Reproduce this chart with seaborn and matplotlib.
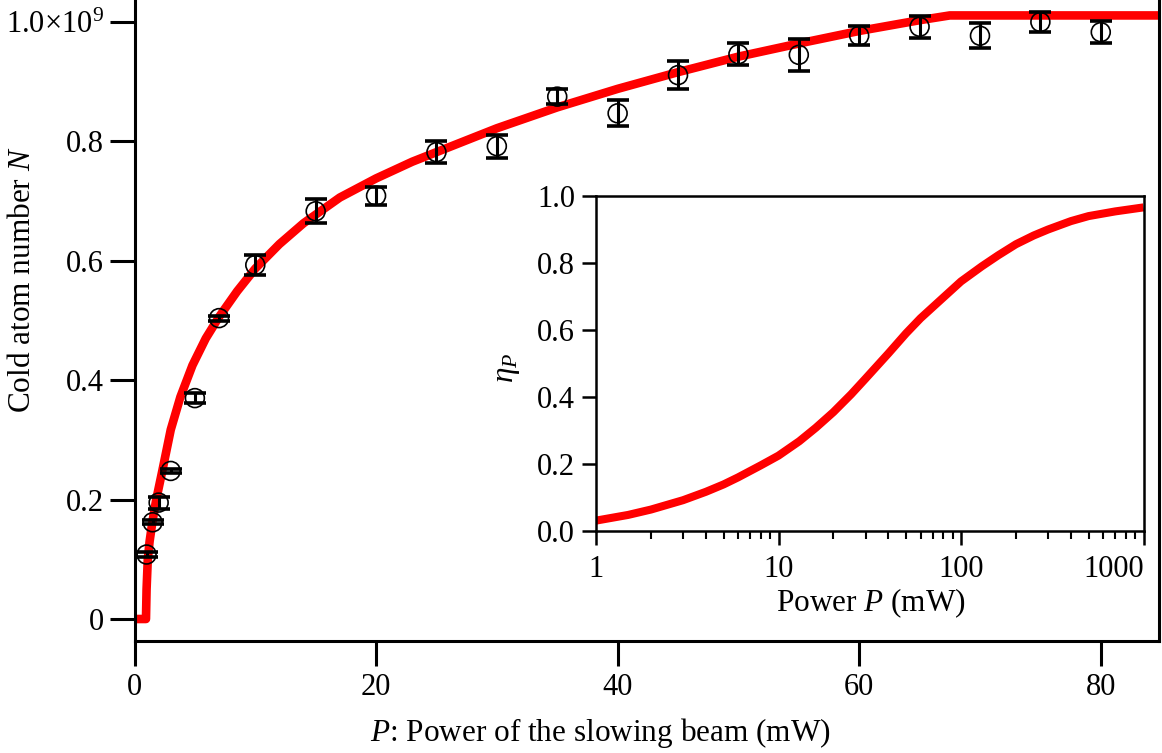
import numpy as np
import pandas as pd
import matplotlib
matplotlib.use("Agg")
import matplotlib.pyplot as plt
from matplotlib.ticker import LogLocator, NullFormatter, FixedLocator
import seaborn as sns

# Measured cold atom number vs. slowing-beam power (N in units of 1e9 atoms)
power_mw = [1, 1.5, 2, 3, 5, 7, 10, 15, 20, 25, 30, 35, 40, 45, 50, 55, 60, 65, 70, 75, 80]
atoms_1e9 = [0.108, 0.162, 0.195, 0.248, 0.370, 0.504, 0.593, 0.683, 0.709, 0.782, 0.792,
             0.875, 0.847, 0.911, 0.946, 0.945, 0.977, 0.992, 0.977, 1.000, 0.983]
atoms_err_1e9 = [0.004, 0.003, 0.010, 0.004, 0.009, 0.004, 0.017, 0.020, 0.015, 0.018, 0.019,
                 0.013, 0.022, 0.023, 0.018, 0.027, 0.016, 0.018, 0.021, 0.017, 0.018]

# Model curve for the atom number
fit_power_mw = [0, 0.95, 1.0, 1.1, 1.25, 1.5, 1.8, 2.3, 3.0, 3.8, 4.8, 5.9, 7.0, 8.5, 10,
                12, 14, 17, 20, 23, 26, 30, 35, 40, 45, 50, 55, 60, 65, 67.5, 85]
fit_atoms_1e9 = [0, 0, 0.05, 0.100, 0.130, 0.165, 0.200, 0.248, 0.317, 0.372, 0.425, 0.470,
                 0.506, 0.549, 0.587, 0.628, 0.663, 0.706, 0.738, 0.766, 0.790, 0.822, 0.857,
                 0.888, 0.916, 0.942, 0.964, 0.985, 1.003, 1.011, 1.011]

# Slowing efficiency eta_P vs. power (inset)
eta_power_mw = [1, 1.5, 2, 3, 4, 5, 6, 8, 10, 13, 16, 20, 25, 30, 40, 50, 60, 80, 100,
                130, 160, 200, 250, 300, 400, 500, 700, 1000]
eta_values = [0.031, 0.048, 0.064, 0.092, 0.117, 0.139, 0.160, 0.196, 0.225, 0.268, 0.308,
              0.355, 0.408, 0.455, 0.530, 0.590, 0.635, 0.697, 0.745, 0.790, 0.823, 0.856,
              0.882, 0.900, 0.925, 0.940, 0.954, 0.966]

main_yticks = [0, 0.2, 0.4, 0.6, 0.8, 1.0]
main_yticklabels = ["0", "0.2", "0.4", "0.6", "0.8", r"1.0×10$^{9}$"]
main_xticks = [0, 20, 40, 60, 80]
inset_yticks = [0.0, 0.2, 0.4, 0.6, 0.8, 1.0]
inset_xticks = [1, 10, 100, 1000]

sns.set_style("ticks")
plt.rcParams["font.family"] = ["Liberation Serif", "DejaVu Serif"]
plt.rcParams["mathtext.fontset"] = "custom"
plt.rcParams["mathtext.rm"] = "Liberation Serif"
plt.rcParams["mathtext.it"] = "Liberation Serif:italic"
plt.rcParams["mathtext.bf"] = "Liberation Serif:bold"
for key in ["text.color", "axes.labelcolor", "xtick.color", "ytick.color",
            "xtick.labelcolor", "ytick.labelcolor", "axes.edgecolor"]:
    plt.rcParams[key] = "black"

W, H = 1162, 753
fig = plt.figure(figsize=(W / 100, H / 100), dpi=100)

FS = 22
FS_LABEL = 22.5
# ---------------- main axes ----------------
ax = fig.add_axes([134.5 / W, (H - 641) / H, (1158.5 - 134.5) / W, 641 / H])
ax.set_xlim(0, 84.78)
ax.set_ylim(-22 / 597, 1 + 22 / 597)

fit_df = pd.DataFrame({"P": fit_power_mw, "N": fit_atoms_1e9})
sns.lineplot(data=fit_df, x="P", y="N", ax=ax, color="#ff0000", lw=6.2,
             estimator=None, sort=False, zorder=2, solid_capstyle="butt",
             solid_joinstyle="round")

ax.errorbar(power_mw, atoms_1e9, yerr=atoms_err_1e9, fmt="none", ecolor="black",
            elinewidth=2.2, capsize=7.8, capthick=2.6, zorder=3)
pts_df = pd.DataFrame({"P": power_mw, "N": atoms_1e9})
sns.scatterplot(data=pts_df, x="P", y="N", ax=ax, marker="o", s=185,
                facecolors="none", edgecolor="black", linewidth=1.2, zorder=4)

ax.set_xticks(main_xticks)
ax.set_xticklabels([str(t) for t in main_xticks])
ax.set_yticks(main_yticks)
ax.set_yticklabels(main_yticklabels)
ax.tick_params(axis="both", direction="out", length=18, width=2.2, labelsize=FS,
               color="black", labelcolor="black")
ax.tick_params(axis="x", pad=5)
ax.tick_params(axis="y", pad=4)
ax.spines["top"].set_visible(False)
for s in ["left", "bottom", "right"]:
    ax.spines[s].set_linewidth(2.2)
    ax.spines[s].set_color("black")
ax.set_xlabel("")
ax.set_ylabel("")

fig.text(600 / W, 1 - 733 / H, r"$P$: Power of the slowing beam (mW)", ha="center", va="center",
         fontsize=FS_LABEL, color="black")
fig.text(23 / W, 1 - 280 / H, r"Cold atom number $N$", ha="center", va="center",
         rotation=90, fontsize=FS_LABEL, color="black")

# ---------------- inset ----------------
axi = fig.add_axes([596 / W, (H - 531) / H, (1143.5 - 596) / W, (531 - 196) / H])
eta_df = pd.DataFrame({"P": eta_power_mw, "eta": eta_values})
sns.lineplot(data=eta_df, x="P", y="eta", ax=axi, color="#ff0000", lw=5.8,
             estimator=None, sort=False, solid_capstyle="butt", solid_joinstyle="round")
axi.set_xscale("log")
axi.set_xlim(1, 1000)
axi.set_ylim(0, 1)
axi.xaxis.set_major_locator(FixedLocator(inset_xticks))
axi.set_xticklabels([str(t) for t in inset_xticks])
axi.xaxis.set_minor_locator(LogLocator(base=10, subs=np.arange(2, 10)))
axi.xaxis.set_minor_formatter(NullFormatter())
axi.set_yticks(inset_yticks)
axi.set_yticklabels([f"{t:.1f}" for t in inset_yticks])
axi.tick_params(axis="both", which="major", direction="out", length=10, width=1.8,
                labelsize=FS, color="black", labelcolor="black")
axi.tick_params(axis="x", which="minor", direction="out", length=5.5, width=1.5, color="black")
axi.tick_params(axis="x", which="major", pad=7)
axi.tick_params(axis="y", which="major", pad=5)
for lab in axi.get_xticklabels():
    if lab.get_text() == "1000":
        lab.set_horizontalalignment("right")
for s in axi.spines.values():
    s.set_linewidth(1.8)
    s.set_color("black")
axi.set_xlabel("")
axi.set_ylabel("")
fig.text(871 / W, 1 - 603 / H, r"Power $P$ (mW)", ha="center", va="center",
         fontsize=FS_LABEL, color="black")
fig.text(508 / W, 1 - 368 / H, r"$\eta_P$", ha="center", va="center", rotation=90,
         fontsize=FS_LABEL, color="black")

fig.savefig("out.png", dpi=100)
